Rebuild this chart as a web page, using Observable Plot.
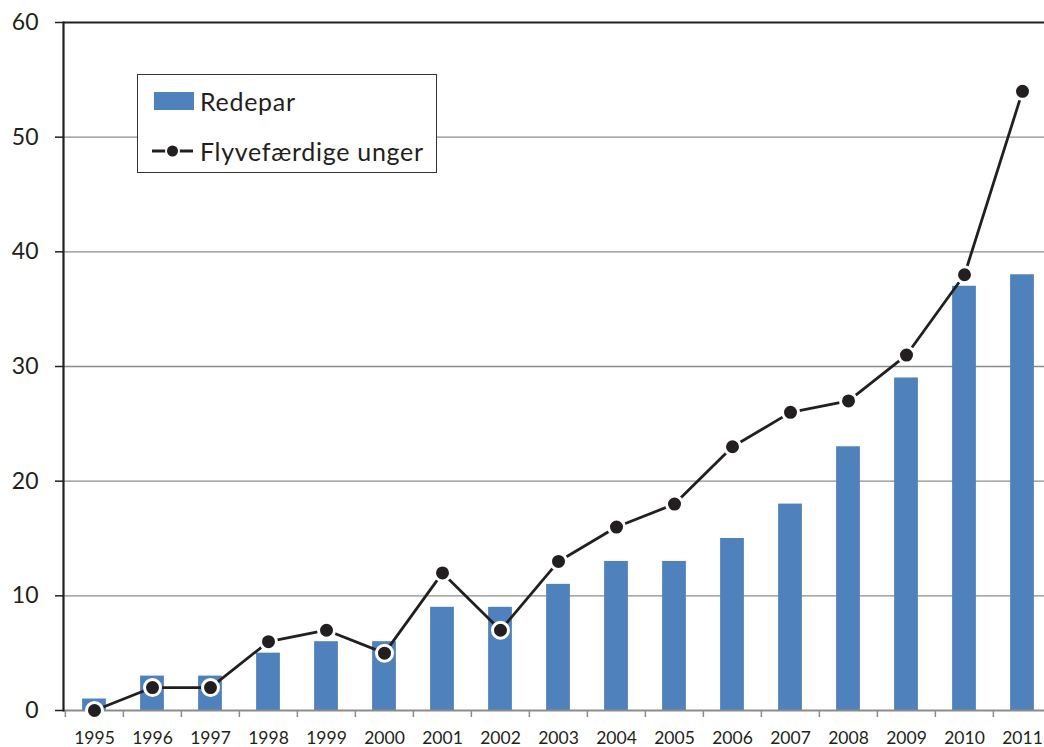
<!DOCTYPE html>
<html>
<head>
<meta charset="utf-8">
<script src="https://cdn.jsdelivr.net/npm/d3@7"></script>
<script src="https://cdn.jsdelivr.net/npm/@observablehq/plot@0.6"></script>
<style>
  html, body { margin: 0; padding: 0; background: white; overflow: hidden; }
  #wrap { position: relative; width: 1044px; height: 747px; font-family: Lato, "Open Sans", sans-serif; }
  #legend { position: absolute; left: 137px; top: 74px; width: 300px; height: 99px; border: 1.5px solid #333; background: white; box-sizing: border-box; }
  .lg-row { position: absolute; left: 14px; display: flex; align-items: center; font-size: 25px; letter-spacing: 0.7px; color: #231f20; white-space: nowrap; }
</style>
</head>
<body>
<div id="wrap"></div>
<script>
const years = ["1995","1996","1997","1998","1999","2000","2001","2002","2003","2004","2005","2006","2007","2008","2009","2010","2011"];
const redepar = [1, 3, 3, 5, 6, 6, 9, 9, 11, 13, 13, 15, 18, 23, 29, 37, 38];
const unger = [0, 2, 2, 6, 7, 5, 12, 7, 13, 16, 18, 23, 26, 27, 31, 38, 54];
const yTicks = [0, 10, 20, 30, 40, 50, 60];
const gridTicks = [10, 20, 30, 40, 50];
const seriesNames = ["Redepar", "Flyvefærdige unger"];

const data = years.map((y, i) => ({year: y, redepar: redepar[i], unger: unger[i]}));

const W = 1044, H = 747, mL = 63, mT = 22, mB = 37;
const xRange = [63, 1053];
const bw = (xRange[1] - xRange[0]) / years.length;
const barInset = (bw - 24) / 2;
const blue = "#4f81bd";
const ink = "#231f20";

const chart = Plot.plot({
  width: W,
  height: H,
  marginLeft: mL,
  marginRight: 0,
  marginTop: mT,
  marginBottom: mB,
  style: {fontFamily: "Lato, 'Open Sans', sans-serif", color: ink, background: "white", overflow: "visible"},
  x: {type: "band", domain: years, range: xRange, padding: 0, label: null},
  y: {domain: [0, 60], ticks: yTicks, label: null},
  marks: [
    Plot.ruleY(gridTicks, {stroke: "#8c8c8c", strokeWidth: 1.3}),
    Plot.ruleY([60], {stroke: ink, strokeWidth: 2}),
    Plot.barY(data, {x: "year", y: "redepar", fill: blue, insetLeft: barInset, insetRight: barInset}),
    Plot.ruleY([0], {stroke: "#8c8c8c", strokeWidth: 2}),
    Plot.axisX({tickSize: 7, dx: -bw / 2, tickFormat: () => "", label: null, stroke: "#8c8c8c", strokeWidth: 1.5}),
    Plot.axisX({tickSize: 0, tickPadding: 21, fontSize: 17.5, label: null, fill: ink}),
    Plot.axisY({ticks: yTicks, tickSize: 8, tickPadding: 17, fontSize: 23, label: null, stroke: ink, strokeWidth: 1.5, fill: ink}),
    Plot.frame({anchor: "left", stroke: ink, strokeWidth: 2.2}),
    Plot.line(data, {x: "year", y: "unger", stroke: ink, strokeWidth: 2.8}),
    Plot.dot(data, {x: "year", y: "unger", r: 8, fill: ink, stroke: "white", strokeWidth: 3})
  ]
});

const wrap = document.getElementById("wrap");
wrap.appendChild(chart);

const legend = document.createElement("div");
legend.id = "legend";
legend.innerHTML = `
  <div class="lg-row" style="top:11px;"><svg width="48" height="28"><rect x="2" y="5" width="40" height="18" fill="${blue}"/></svg><span>${seriesNames[0]}</span></div>
  <div class="lg-row" style="top:61px;"><svg width="48" height="28"><line x1="0" x2="41" y1="14" y2="14" stroke="${ink}" stroke-width="2.8"/><circle cx="20.5" cy="14" r="6.5" fill="${ink}" stroke="white" stroke-width="2"/></svg><span>${seriesNames[1]}</span></div>
`;
wrap.appendChild(legend);
</script>
</body>
</html>
